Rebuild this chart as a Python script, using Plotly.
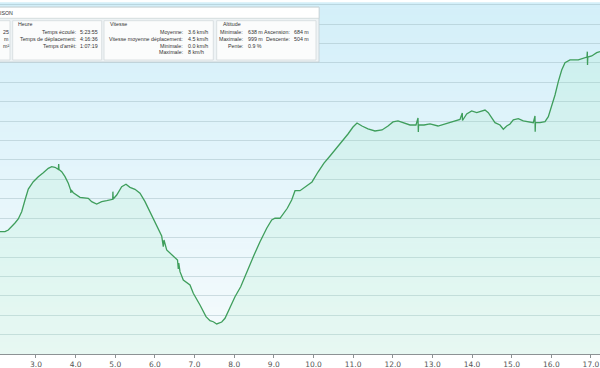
import plotly.graph_objects as go

# ---------------- data (distance km, altitude m) ----------------
km = [2.092, 2.218, 2.301, 2.387, 2.470, 2.553, 2.639, 2.723, 2.806, 2.932,
      3.058, 3.184, 3.310, 3.396, 3.479, 3.563, 3.573, 3.580, 3.648, 3.732,
      3.815, 3.875, 3.880, 3.888, 3.941, 4.110, 4.319, 4.405, 4.531, 4.657,
      4.784, 4.935, 4.940, 4.948, 5.036, 5.162, 5.270, 5.371, 5.497, 5.624,
      5.750, 5.876, 6.045, 6.171, 6.211, 6.229, 6.297, 6.507, 6.570, 6.590,
      6.602, 6.633, 6.716, 6.885, 6.968, 7.137, 7.289, 7.389, 7.473, 7.559,
      7.685, 7.768, 7.894, 8.020, 8.164, 8.315, 8.482, 8.651, 8.820, 8.946,
      9.029, 9.155, 9.238, 9.339, 9.450, 9.534, 9.660, 9.811, 9.963, 10.114,
      10.265, 10.417, 10.568, 10.719, 10.871, 10.997, 11.098, 11.224, 11.375, 11.552,
      11.729, 11.880, 12.006, 12.132, 12.284, 12.435, 12.586, 12.637, 12.645, 12.652,
      12.788, 12.939, 13.141, 13.318, 13.444, 13.613, 13.696, 13.754, 13.759, 13.865,
      13.991, 14.118, 14.244, 14.327, 14.410, 14.496, 14.579, 14.705, 14.789, 14.874,
      14.958, 15.041, 15.167, 15.293, 15.419, 15.545, 15.588, 15.593, 15.600, 15.715,
      15.841, 15.924, 16.010, 16.093, 16.176, 16.262, 16.345, 16.471, 16.681, 16.807,
      16.900, 16.908, 16.913, 16.920, 17.019, 17.145, 17.228]
alt = [757.6, 757.6, 759.8, 764.1, 768.8, 774.0, 783.4, 798.5, 812.6, 822.0,
       828.5, 833.6, 839.3, 841.4, 840.6, 838.0, 844.9, 837.8, 834.9, 828.5,
       820.0, 811.3, 807.5, 811.3, 807.9, 801.9, 800.7, 796.3, 793.3, 796.3,
       797.6, 799.4, 809.2, 799.8, 804.9, 815.6, 818.7, 814.8, 812.2, 807.1,
       796.3, 783.4, 764.0, 752.1, 738.3, 746.9, 734.0, 723.3, 721.1, 709.5,
       717.3, 706.1, 695.4, 688.9, 678.2, 663.1, 648.1, 642.9, 641.6, 638.7,
       641.2, 646.0, 661.0, 673.8, 686.7, 706.1, 725.4, 744.7, 762.0, 772.7,
       774.9, 774.9, 781.3, 787.8, 798.5, 810.4, 810.4, 816.5, 821.7, 834.5,
       846.1, 855.2, 864.2, 873.2, 883.5, 892.5, 897.7, 893.8, 890.0, 887.4,
       888.7, 893.8, 899.0, 900.3, 897.7, 895.1, 895.1, 904.1, 886.1, 895.1,
       895.1, 896.4, 893.8, 896.4, 898.1, 900.7, 902.2, 910.6, 900.9, 909.3,
       913.2, 911.0, 912.8, 914.4, 911.0, 903.7, 898.1, 895.1, 889.6, 893.8,
       896.4, 901.6, 903.2, 900.3, 899.4, 898.1, 906.7, 886.5, 898.1, 898.1,
       899.4, 905.8, 918.7, 933.8, 950.9, 966.0, 975.4, 978.9, 978.9, 981.1,
       982.7, 989.6, 972.4, 982.7, 984.0, 988.3, 989.6]

x_ticks = [3.0, 4.0, 5.0, 6.0, 7.0, 8.0, 9.0, 10.0, 11.0, 12.0, 13.0, 14.0, 15.0, 16.0, 17.0]
x_tick_labels = ["3.0", "4.0", "5.0", "6.0", "7.0", "8.0", "9.0", "10.0",
                 "11.0", "12.0", "13.0", "14.0", "15.0", "16.0", "17.0"]

title_text = "MAISON"
left_values = ["25", "m", "m²"]
heure_title = "Heure"
heure_labels = ["Temps écoulé:", "Temps de déplacement:", "Temps d'arrêt:"]
heure_values = ["5:23:55", "4:16:36", "1:07:19"]
vitesse_title = "Vitesse"
vitesse_labels = ["Moyenne:", "Vitesse moyenne déplacement:", "Minimale:", "Maximale:"]
vitesse_values = ["3.6 km/h", "4.5 km/h", "0.0 km/h", "8 km/h"]
altitude_title = "Altitude"
altitude_labels_1 = ["Minimale:", "Maximale:", "Pente:"]
altitude_values_1 = ["638 m", "999 m", "0.9 %"]
altitude_labels_2 = ["Ascension:", "Descente:"]
altitude_values_2 = ["684 m", "504 m"]

X_RANGE = [2.092, 17.228]
Y_RANGE = [600, 1052.3]

# ---------------- layout helpers (pixel -> paper) ----------------
W, H = 600, 368
M_T, M_B = 3, 14
PLOT_H = H - M_T - M_B


def px(x):
    return x / W


def py(y):
    return (H - M_B - y) / PLOT_H


fig = go.Figure()
fig.add_trace(go.Scatter(
    x=km, y=alt, mode="lines",
    line=dict(color="#3f9e5c", width=1.3),
    fill="tozeroy", fillcolor="rgba(150,232,180,0.15)",
    hoverinfo="skip", showlegend=False,
))

shapes = []
# vertical background gradient
N = 60
top_c = (211, 239, 249)
bot_c = (246, 251, 253)
for i in range(N):
    t = (i + 0.5) / N
    c = tuple(round(bot_c[k] + (top_c[k] - bot_c[k]) * t) for k in range(3))
    shapes.append(dict(type="rect", xref="paper", yref="paper",
                       x0=0, x1=1, y0=i / N, y1=(i + 1) / N + 0.002,
                       fillcolor="rgb(%d,%d,%d)" % c, line=dict(width=0),
                       layer="below"))


def box(x0, y0, x1, y1, fill, line="#cfd6d9", lw=0.8):
    shapes.append(dict(type="rect", xref="paper", yref="paper",
                       x0=px(x0), x1=px(x1), y0=py(y1), y1=py(y0),
                       fillcolor=fill, line=dict(color=line, width=lw),
                       layer="above"))


box(-2, 7, 319, 62, "#eef3f5", "#c3ced3")
box(-2, 7.3, 319, 18.3, "#ffffff", "#cdd5d8")
box(-2, 20.7, 10, 60, "#fbfcfc", "#d3d9dc")
box(12.7, 20.7, 101.7, 60, "#fbfcfc", "#d3d9dc")
box(104, 20.7, 213.3, 60, "#fbfcfc", "#d3d9dc")
box(216.7, 20.7, 316, 60, "#fbfcfc", "#d3d9dc")

annotations = []
FONT = dict(family="Liberation Sans, Arial, sans-serif", size=5.3, color="#333333")


def txt(x, y, s, anchor):
    annotations.append(dict(xref="paper", yref="paper", x=px(x), y=py(y),
                            text=s, showarrow=False, xanchor=anchor,
                            yanchor="middle", font=FONT, borderpad=0))


txt(14, 13, title_text, "right")
row_y = [32.3, 39.0, 45.7, 52.3]
for i, s in enumerate(left_values):
    txt(9.5, row_y[i], s, "right")
txt(16.5, 24.3, heure_title, "left")
for i, (lb, v) in enumerate(zip(heure_labels, heure_values)):
    txt(76.5, row_y[i], lb, "right")
    txt(79, row_y[i], v, "left")
txt(109, 24.3, vitesse_title, "left")
for i, (lb, v) in enumerate(zip(vitesse_labels, vitesse_values)):
    txt(183.5, row_y[i], lb, "right")
    txt(186.5, row_y[i], v, "left")
txt(221.5, 24.3, altitude_title, "left")
for i, (lb, v) in enumerate(zip(altitude_labels_1, altitude_values_1)):
    txt(244, row_y[i], lb, "right")
    txt(246.5, row_y[i], v, "left")
for i, (lb, v) in enumerate(zip(altitude_labels_2, altitude_values_2)):
    txt(290.5, row_y[i], lb, "right")
    txt(293, row_y[i], v, "left")

fig.update_layout(
    width=W, height=H,
    margin=dict(l=0, r=0, t=M_T, b=M_B, pad=0),
    paper_bgcolor="#ffffff",
    plot_bgcolor="rgba(0,0,0,0)",
    shapes=shapes,
    annotations=annotations,
    showlegend=False,
    xaxis=dict(range=X_RANGE, tickvals=x_ticks, ticktext=x_tick_labels,
               showgrid=False, zeroline=False, showline=True,
               linecolor="#8c9294", linewidth=1,
               ticks="outside", ticklen=3, tickcolor="#8c9294",
               tickfont=dict(family="DejaVu Sans, sans-serif", size=7.5, color="#555555")),
    yaxis=dict(range=Y_RANGE, dtick=25, tick0=600, showgrid=True,
               gridcolor="rgba(150,178,185,0.40)", gridwidth=1,
               showticklabels=False, zeroline=False, showline=False, ticks=""),
)

fig.write_html(
    "out.html",
    config={"displayModeBar": False},
    post_script="document.body.style.margin='0';document.body.style.overflow='hidden';",
)
